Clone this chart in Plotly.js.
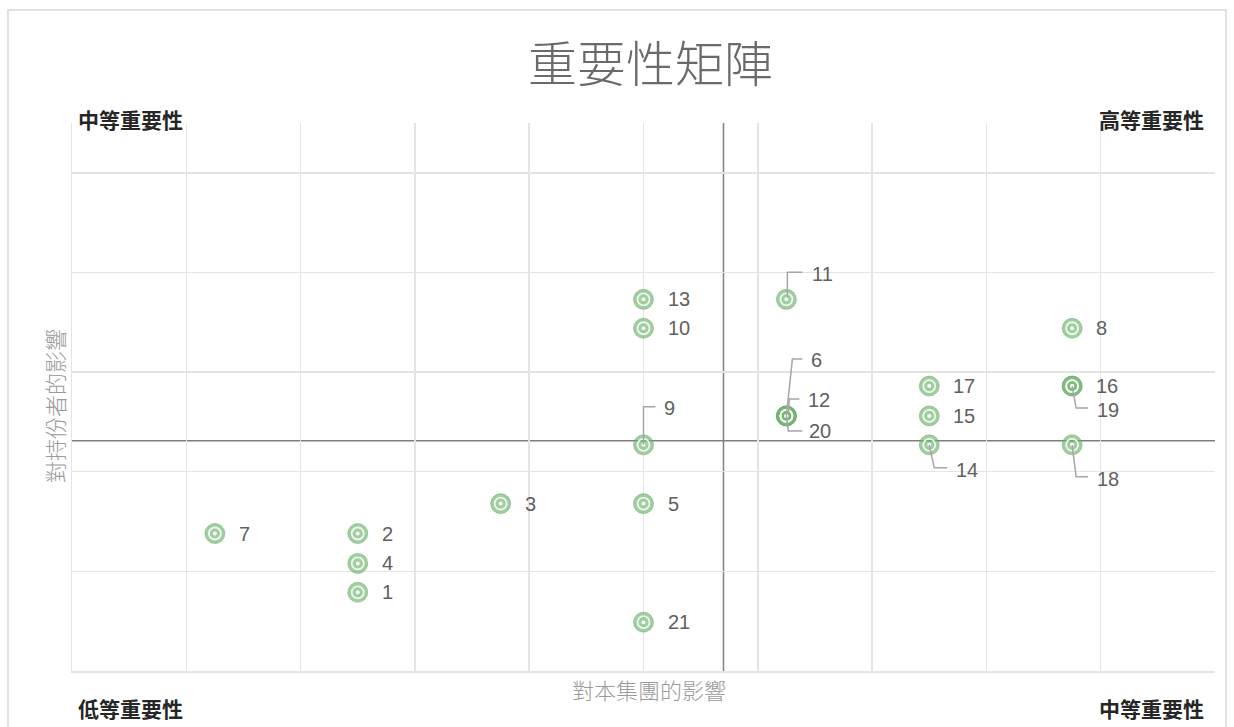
<!DOCTYPE html>
<html>
<head>
<meta charset="utf-8">
<script src="https://cdn.plot.ly/plotly-3.0.1.min.js"></script>
<style>html,body{margin:0;padding:0;background:#fff;}#chart{width:1234px;height:727px;}</style>
</head>
<body>
<div id="chart"></div>
<script>
// Data
var ids = [1,2,3,4,5,6,7,8,9,10,11,12,13,14,15,16,17,18,19,20,21];
var groupImpact = [2.5,2.5,3.75,2.5,5,6.25,1.25,8.75,5,5,6.25,6.25,5,7.5,7.5,8.75,7.5,8.75,8.75,6.25,5];
var stakeholderImpact = [0.79,1.38,1.68,1.08,1.68,2.56,1.38,3.44,2.27,3.44,3.73,2.56,3.73,2.27,2.56,2.86,2.86,2.27,2.86,2.56,0.49];
var quadrantX = 5.7;
var quadrantY = 2.31;
var titleText = '重要性矩陣';
var xTitle = '對本集團的影響';
var yTitle = '對持份者的影響';
var cornerLabels = ['中等重要性','高等重要性','低等重要性','中等重要性'];

// label placement (pixel offsets, screen: +y down) and leader paths
var labelStyle = {
  6:  {dx:23, dy:-56, path:[[0,0],[6,-57],[16,-57]]},
  11: {dx:24, dy:-25, path:[[1,-2],[1,-27],[16,-27]]},
  12: {dx:20, dy:-16, path:[[2,-4],[3,-17],[13,-17]]},
  20: {dx:21, dy:15, path:[[0,0],[2,15],[16,15]]},
  9:  {dx:18, dy:-37, path:[[0,0],[0,-38],[12,-38]]},
  14: {dx:25, dy:25, path:[[0,0],[5,23],[18,23]]},
  18: {dx:23, dy:34, path:[[0,0],[4,32],[16,32]]},
  19: {dx:23, dy:24, path:[[0,0],[4,22],[16,22]]}
};

var annotations = [];
var shapes = [];
ids.forEach(function(id, i){
  var st = labelStyle[id] || {dx:22, dy:0};
  annotations.push({
    x: groupImpact[i], y: stakeholderImpact[i], xref:'x', yref:'y',
    text: String(id), showarrow:false, xanchor:'left', yanchor:'middle',
    xshift: st.dx, yshift: -st.dy,
    font:{family:'Liberation Sans, Arial, sans-serif', size:20, color:'#606060'}
  });
  if (st.path) {
    var d = st.path.map(function(p, k){ return (k===0?'M':'L') + p[0] + ',' + (-p[1]); }).join(' ');
    shapes.push({
      type:'path', xref:'x', yref:'y', xsizemode:'pixel', ysizemode:'pixel',
      xanchor: groupImpact[i], yanchor: stakeholderImpact[i],
      path: d, line:{color:'#a6a6a6', width:1.5}, layer:'above'
    });
  }
});

// quadrant lines
shapes.push({type:'line', xref:'x', yref:'y', x0:quadrantX, x1:quadrantX, y0:0, y1:5.5, line:{color:'#7f7f7f', width:1.5}, layer:'below'});
shapes.push({type:'line', xref:'x', yref:'y', x0:0, x1:10, y0:quadrantY, y1:quadrantY, line:{color:'#7f7f7f', width:1.5}, layer:'below'});
// outer border
shapes.push({type:'rect', xref:'paper', yref:'paper', x0:-0.056, x1:1.0096, y0:-0.12, y1:1.206, line:{color:'#d9d9d9', width:1.5}, fillcolor:'rgba(0,0,0,0)', layer:'below'});

var cjk = '"Noto Sans CJK TC", "Noto Sans CJK SC", sans-serif';
// titles & corner labels
annotations.push({xref:'paper', yref:'paper', x:0.5, y:1.0, xshift:7, yshift:63, text:titleText, showarrow:false, xanchor:'center', yanchor:'middle', font:{family:cjk, size:49, color:'#6a6a6a', weight:300}});
annotations.push({xref:'paper', yref:'paper', x:0.5, y:0, xshift:5, yshift:-18, text:xTitle, showarrow:false, xanchor:'center', yanchor:'middle', font:{family:cjk, size:22, color:'#9a9a9a', weight:300}});
annotations.push({xref:'paper', yref:'paper', x:0, y:0.5, xshift:-18, yshift:-9, text:yTitle, textangle:-90, showarrow:false, xanchor:'center', yanchor:'middle', font:{family:cjk, size:22, color:'#9a9a9a', weight:300}});
var cornerFont = {family:cjk, size:21, color:'#262626', weight:600};
annotations.push({xref:'paper', yref:'paper', x:0, y:1, xshift:4, yshift:4, text:cornerLabels[0], showarrow:false, xanchor:'left', yanchor:'middle', font:cornerFont});
annotations.push({xref:'paper', yref:'paper', x:1, y:1, xshift:-9, yshift:4, text:cornerLabels[1], showarrow:false, xanchor:'right', yanchor:'middle', font:cornerFont});
annotations.push({xref:'paper', yref:'paper', x:0, y:0, xshift:4, yshift:-37, text:cornerLabels[2], showarrow:false, xanchor:'left', yanchor:'middle', font:cornerFont});
annotations.push({xref:'paper', yref:'paper', x:1, y:0, xshift:-9, yshift:-37, text:cornerLabels[3], showarrow:false, xanchor:'right', yanchor:'middle', font:cornerFont});

var traces = [
  {type:'scatter', mode:'markers', x:groupImpact, y:stakeholderImpact, hoverinfo:'skip',
   marker:{symbol:'circle', size:20, color:'rgba(110,180,110,0.66)', line:{color:'rgba(100,165,100,0.45)', width:1}}},
  {type:'scatter', mode:'markers', x:groupImpact, y:stakeholderImpact, hoverinfo:'skip',
   marker:{symbol:'circle-open', size:12, color:'rgba(255,255,255,0.85)', line:{color:'rgba(255,255,255,0.85)', width:1.8}}},
  {type:'scatter', mode:'markers', x:groupImpact, y:stakeholderImpact, hoverinfo:'skip',
   marker:{symbol:'circle', size:4, color:'rgba(255,255,255,0.95)', line:{width:0}}}
];

var layout = {
  width:1234, height:727,
  margin:{l:72, r:19, t:123, b:56},
  paper_bgcolor:'#ffffff', plot_bgcolor:'#ffffff',
  showlegend:false,
  xaxis:{range:[0,10], dtick:1, tick0:0, showticklabels:false, ticks:'', zeroline:false,
         showgrid:true, gridcolor:'#e4e4e4', gridwidth:1.5, showline:true, linecolor:'#e4e4e4', linewidth:1.5, fixedrange:true},
  yaxis:{range:[0,5.5], dtick:1, tick0:0, showticklabels:false, ticks:'', zeroline:false,
         showgrid:true, gridcolor:'#e4e4e4', gridwidth:1.5, showline:true, linecolor:'#e4e4e4', linewidth:1.5, fixedrange:true},
  shapes:shapes,
  annotations:annotations
};

Plotly.newPlot('chart', traces, layout, {displayModeBar:false, staticPlot:true});
</script>
</body>
</html>
